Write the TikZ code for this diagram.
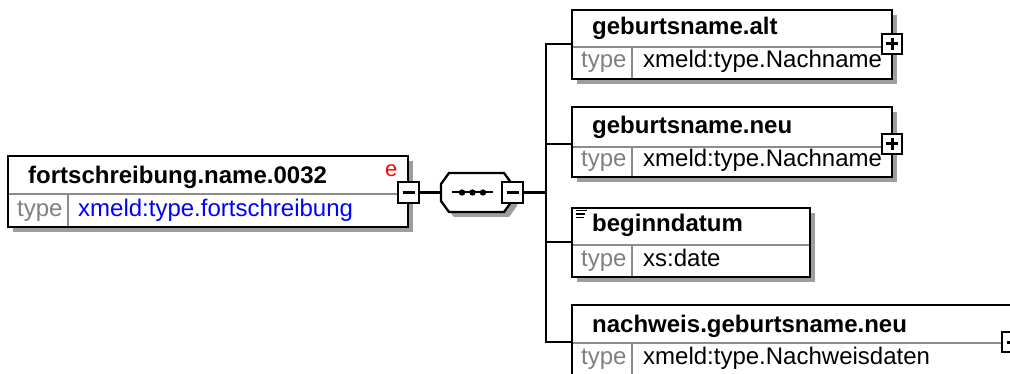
\documentclass[tikz,border=0pt]{standalone}
\usepackage{fontspec}
\setmainfont{Liberation Sans}
\usetikzlibrary{shadows}
\definecolor{shadowc}{gray}{0.62}
\definecolor{divc}{gray}{0.55}
\definecolor{typec}{gray}{0.5}
\definecolor{bluec}{rgb}{0,0,1}
\definecolor{redc}{rgb}{1,0,0}
\tikzset{
  elem/.style={draw=black, line width=2.3pt, fill=white, rectangle, inner sep=0pt, outer sep=0pt,
    anchor=north west, drop shadow={shadow xshift=5pt, shadow yshift=-5pt, opacity=1, fill=shadowc}},
  divline/.style={draw=divc, line width=2pt},
  ttl/.style={anchor=base west, inner sep=0pt, font=\bfseries\fontsize{24}{28}\selectfont},
  typel/.style={anchor=base west, inner sep=0pt, text=typec, font=\fontsize{24}{28}\selectfont},
  typev/.style={anchor=base west, inner sep=0pt, font=\fontsize{24}{28}\selectfont},
  conn/.style={draw=black, line width=2.1pt},
  pmbox/.style={draw=black, line width=2.3pt, fill=white, rectangle, minimum size=20.5pt, inner sep=0pt, outer sep=0pt},
  minusbox/.style={pmbox, path picture={\draw[line width=3pt]
      ([xshift=-6pt]path picture bounding box.center) -- ([xshift=6pt]path picture bounding box.center);}},
  plusbox/.style={pmbox, path picture={\draw[line width=3pt]
      ([xshift=-6pt]path picture bounding box.center) -- ([xshift=6pt]path picture bounding box.center);
      \draw[line width=3pt]
      ([yshift=-6pt]path picture bounding box.center) -- ([yshift=6pt]path picture bounding box.center);}},
}
\begin{document}
\begin{tikzpicture}[x=1pt, y=-1pt, line join=miter]
\useasboundingbox (0,0) rectangle (1010,374);
\clip (0,0) rectangle (1010,374);

% ---------- main element ----------
\node[elem, minimum width=400pt, minimum height=71pt] (m) at (8,156) {};
\draw[divline] (9.2,194) -- (406.8,194);
\draw[divline] (68,194) -- (68,226);
\node[ttl] (mt) at (28,184) {fortschreibung.name.0032};
\node[anchor=base east, inner sep=0pt, text=redc, font=\fontsize{22}{26}\selectfont] (me) at (397.5,177) {e};
\node[typel] (mk) at (17,217) {type};
\node[typev, text=bluec] (mv) at (78,217) {xmeld:type.fortschreibung};

% ---------- sequence compositor ----------
\node[minimum width=71pt, minimum height=39pt, inner sep=0pt, outer sep=0pt] (seq) at (476.5,192.5) {};
\draw[line width=2.3pt, fill=white, drop shadow={shadow xshift=5pt, shadow yshift=-5pt, opacity=1, fill=shadowc}]
  ([xshift=8pt]seq.north west) -- ([xshift=-8pt]seq.north east) -- ([yshift=-11pt]seq.north east)
  -- ([yshift=11pt]seq.south east) -- ([xshift=-8pt]seq.south east) -- ([xshift=8pt]seq.south west)
  -- ([yshift=11pt]seq.south west) -- ([yshift=-11pt]seq.north west) -- cycle;
\draw[line width=2pt] (452,192.5) -- (493,192.5);
\foreach \dx in {462,472.5,483} \fill (\dx,192.5) circle (3.2pt);

% ---------- child elements ----------
% geburtsname.alt
\node[elem, minimum width=320pt, minimum height=69pt] (b1) at (572,10) {};
\draw[divline] (573.2,47) -- (890.8,47);
\draw[divline] (632,47) -- (632,78);
\node[ttl] (b1t) at (592,35) {geburtsname.alt};
\node[typel] (b1k) at (581,68) {type};
\node[typev] (b1v) at (643,68) {xmeld:type.Nachname};

% geburtsname.neu
\node[elem, minimum width=320pt, minimum height=70pt] (b2) at (572,107) {};
\draw[divline] (573.2,147) -- (890.8,147);
\draw[divline] (632,147) -- (632,176);
\node[ttl] (b2t) at (592,134) {geburtsname.neu};
\node[typel] (b2k) at (581,167) {type};
\node[typev] (b2v) at (643,167) {xmeld:type.Nachname};

% beginndatum
\node[elem, minimum width=238pt, minimum height=69pt] (b3) at (572,208) {};
\draw[divline] (573.2,245) -- (808.8,245);
\draw[divline] (632,245) -- (632,276);
\node[ttl] (b3t) at (592,232) {beginndatum};
\node[typel] (b3k) at (581,266.5) {type};
\node[typev] (b3v) at (643,266.5) {xs:date};
\draw[line width=1.6pt] (576,210.5) -- (587,210.5);
\draw[line width=1.6pt] (576,214) -- (585,214);
\draw[line width=1.6pt] (576,217.5) -- (584,217.5);

% nachweis.geburtsname.neu
\node[elem, minimum width=440pt, minimum height=71pt] (b4) at (572,305) {};
\draw[divline] (573.2,343) -- (1011,343);
\draw[divline] (632,343) -- (632,375);
\node[ttl] (b4t) at (592,333) {nachweis.geburtsname.neu};
\node[typel] (b4k) at (581,364) {type};
\node[typev] (b4v) at (643,364) {xmeld:type.Nachweisdaten};

% ---------- connectors ----------
\coordinate (c1) at (546,44);
\coordinate (c2) at (546,144);
\coordinate (c3) at (546,242);
\coordinate (c4) at (546,342);
\node[minusbox] (mm) at (408.5,192.5) {};
\node[minusbox] (sm) at (512.5,192.5) {};
\draw[conn] (mm.east) -- (seq.west);
\draw[conn] (sm.east) -- (sm.east -| c1);
\draw[conn] (b1.west |- c1) -- (c1) -- (c4) -- (b4.west |- c4);
\draw[conn] (c2) -- (b2.west |- c2);
\draw[conn] (c3) -- (b3.west |- c3);

\node[plusbox] (p1) at (892,44) {};
\node[plusbox] (p2) at (892,144) {};
\node[minusbox] (p4) at (1012.5,342) {};
\end{tikzpicture}
\end{document}
